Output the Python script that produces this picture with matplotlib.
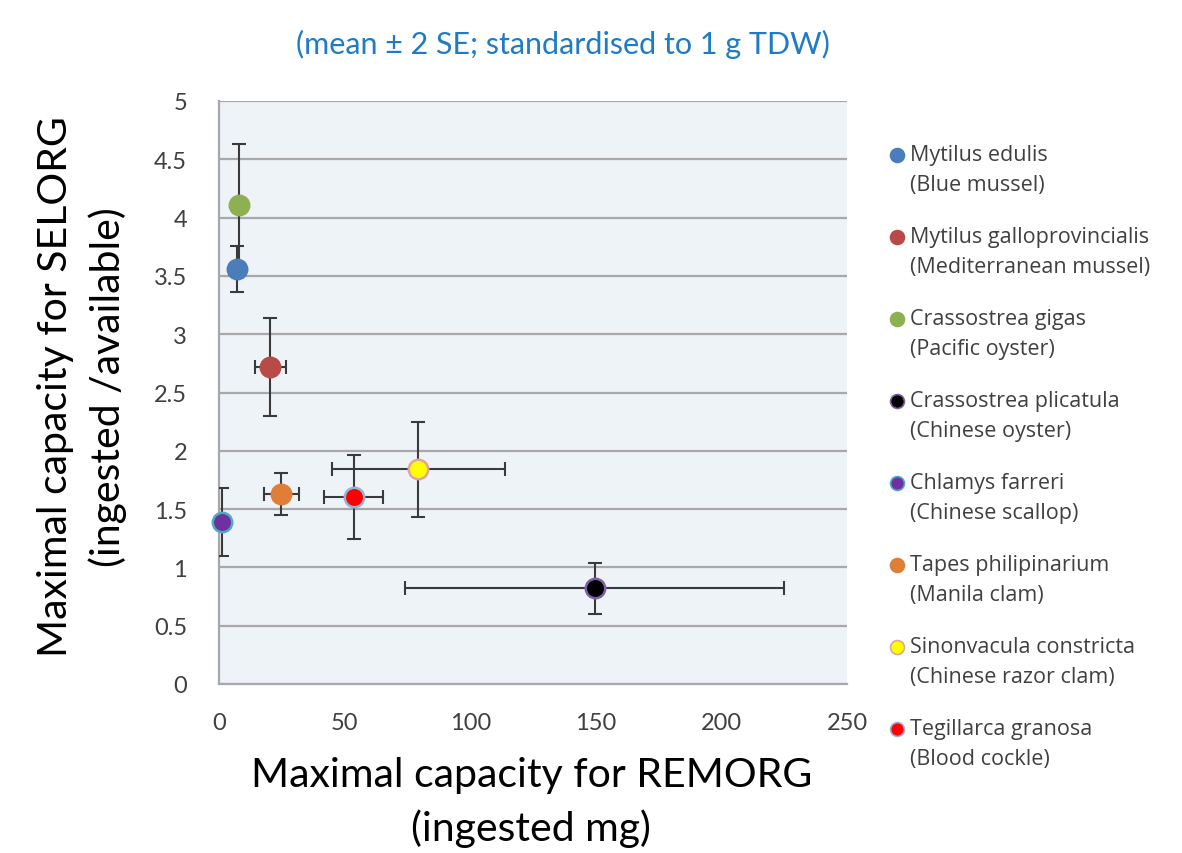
import matplotlib
matplotlib.use("Agg")
import matplotlib.pyplot as plt
from matplotlib.lines import Line2D

# ---- data ----
species = ["Mytilus edulis", "Mytilus galloprovincialis", "Crassostrea gigas",
           "Crassostrea plicatula", "Chlamys farreri", "Tapes philipinarium",
           "Sinonvacula constricta", "Tegillarca granosa"]
common = ["(Blue mussel)", "(Mediterranean mussel)", "(Pacific oyster)",
          "(Chinese oyster)", "(Chinese scallop)", "(Manila clam)",
          "(Chinese razor clam)", "(Blood cockle)"]
remorg = [7.2, 20.5, 8.0, 149.6, 1.0, 24.8, 79.3, 53.6]
remorg_err = [0.0, 6.1, 0.0, 75.5, 0.0, 6.9, 34.4, 11.7]
selorg = [3.56, 2.72, 4.11, 0.82, 1.39, 1.63, 1.84, 1.60]
selorg_err = [0.20, 0.42, 0.52, 0.22, 0.29, 0.18, 0.41, 0.36]
xticks = [0, 50, 100, 150, 200, 250]
yticks = [0, 0.5, 1, 1.5, 2, 2.5, 3, 3.5, 4, 4.5, 5]

face = ["#4A7DBA", "#B84A47", "#8DB151", "#000000", "#7030A0", "#DD7F38", "#FFFF00", "#FF0000"]
edge = ["#4A7DBA", "#B84A47", "#8DB151", "#7F5FA8", "#4BACC6", "#DD7F38", "#E2A3A0", "#95B3D7"]

W, H = 1182, 854
fig = plt.figure(figsize=(W / 100, H / 100), dpi=100)
fig.patch.set_facecolor("white")
ax = fig.add_axes([219 / W, 1 - 685 / H, (847 - 219) / W, (685 - 102) / H])
ax.set_facecolor("#EEF3F8")

for i in range(len(species)):
    ax.errorbar(remorg[i], selorg[i],
                xerr=remorg_err[i] if remorg_err[i] > 0 else None,
                yerr=selorg_err[i], fmt="none", ecolor="#3A3A3A",
                elinewidth=1.5, capsize=5, capthick=1.5, zorder=3)
    ax.plot(remorg[i], selorg[i], "o", ms=14, mfc=face[i], mec=edge[i],
            mew=1.8, zorder=4, clip_on=False)

ax.set_xlim(0, 250)
ax.set_ylim(0, 5)
ax.set_xticks(xticks)
ax.set_yticks(yticks)
ax.set_xticklabels([str(t) for t in xticks])
ax.set_yticklabels([("%g" % t) for t in yticks])
ax.tick_params(axis="x", length=0, labelsize=17, labelcolor="#404040", pad=20)
ax.tick_params(axis="y", length=0, labelsize=17, labelcolor="#404040", pad=23)
for lab in ax.get_xticklabels() + ax.get_yticklabels():
    lab.set_fontfamily("Lato")
ax.grid(axis="y", color="#A8A8A8", lw=1.6, zorder=1)
ax.set_axisbelow(True)
for s in ["top", "right"]:
    ax.spines[s].set_visible(False)
for s in ["left", "bottom"]:
    ax.spines[s].set_color("#A8A8A8")
    ax.spines[s].set_linewidth(1.6)

# axis labels
fig.text(56 / W, 1 - 387 / H, "Maximal capacity for SELORG", rotation=90,
         ha="center", va="center", fontsize=29.5, family="Lato")
fig.text(108 / W, 1 - 387 / H, "(ingested /available)", rotation=90,
         ha="center", va="center", fontsize=29.5, family="Lato")
fig.text(532 / W, 1 - 776 / H, "Maximal capacity for REMORG", ha="center",
         va="center", fontsize=29.5, family="Lato")
fig.text(531 / W, 1 - 829 / H, "(ingested mg)", ha="center", va="center",
         fontsize=29.5, family="Lato")

# subtitle
fig.text(563 / W, 1 - 44 / H, "(mean \u00b1 2 SE; standardised to 1 g TDW)",
         ha="center", va="center", fontsize=22, color="#1F7BC6", family="Lato")

# legend (manual)
for i in range(len(species)):
    y1 = 156 + 82 * i
    fig.add_artist(Line2D([897 / W], [1 - y1 / H], marker="o", ms=10,
                          mfc=face[i], mec=edge[i], mew=1.2,
                          transform=fig.transFigure))
    fig.text(910 / W, 1 - y1 / H, species[i], ha="left", va="center",
             fontsize=15.5, color="#404040", family="Open Sans")
    fig.text(910 / W, 1 - (y1 + 30) / H, common[i], ha="left", va="center",
             fontsize=15.5, color="#404040", family="Open Sans")

fig.savefig("out.png", dpi=100)
